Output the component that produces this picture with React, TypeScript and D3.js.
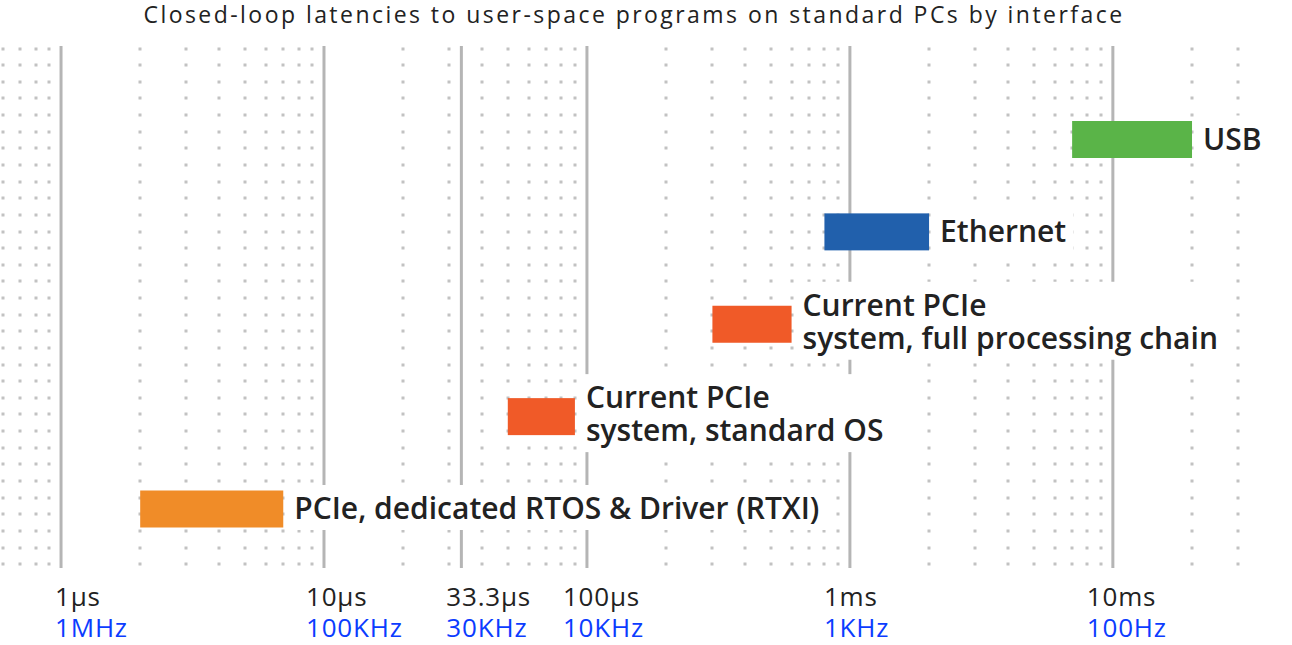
import React, { useEffect, useRef } from 'react';
import * as d3 from 'd3';

// latency bars, values in microseconds
const categories = ['USB', 'Ethernet', 'PCIe full chain', 'PCIe standard OS', 'RTXI'];
const barStart = [7000, 800, 300, 50, 2];
const barEnd = [20000, 2000, 600, 90, 7];
const barLabels = [
  ['USB'],
  ['Ethernet'],
  ['Current PCIe', 'system, full processing chain'],
  ['Current PCIe', 'system, standard OS'],
  ['PCIe, dedicated RTOS & Driver (RTXI)'],
];
const barColors = ['#5ab448', '#2160ac', '#f05a28', '#f05a28', '#f08c28'];

// axis ticks
const tickValues = [1, 10, 33.3, 100, 1000, 10000];
const tickTimeLabels = ['1\u00b5s', '10\u00b5s', '33.3\u00b5s', '100\u00b5s', '1ms', '10ms'];
const tickFreqLabels = ['1MHz', '100KHz', '30KHz', '10KHz', '1KHz', '100Hz'];
const tickNudge = [-6, -18, -15, -24, -26, -26];

const title = 'Closed-loop latencies to user-space programs on standard PCs by interface';

const W = 1292;
const H = 645;
const FONT = "'Open Sans', 'Noto Sans', sans-serif";

const App = () => {
  const ref = useRef<SVGSVGElement>(null);

  useEffect(() => {
    const svg = d3.select(ref.current);
    svg.selectAll('*').remove();

    const x = d3.scaleLog().domain([0.586, 48000]).range([0, W]);
    const y = d3.scalePoint<string>().domain(categories).range([139.5, 509]);

    const gridTop = 46;
    const gridBottom = 568;

    // dotted minor grid
    const minor: number[] = [];
    [0.1, 1, 10, 100, 1000, 10000].forEach(dec => {
      d3.range(2, 10).forEach(k => {
        const v = k * dec;
        if (v >= 0.6 && v <= 30000) minor.push(v);
      });
    });
    const rows = d3.range(32).map(i => 48.6 + i * 16.63);
    const dots = svg.append('g').attr('fill', '#c2c2c2');
    minor.forEach(v => {
      rows.forEach(r => {
        dots.append('rect')
          .attr('x', Math.round(x(v)) - 1.5)
          .attr('y', Math.round(r) - 1.5)
          .attr('width', 3)
          .attr('height', 3);
      });
    });

    // major lines
    svg.append('g')
      .selectAll('line')
      .data(tickValues)
      .enter()
      .append('line')
      .attr('x1', d => x(d))
      .attr('x2', d => x(d))
      .attr('y1', gridTop)
      .attr('y2', gridBottom)
      .attr('stroke', '#b5b5b5')
      .attr('stroke-width', 3);

    // bars
    svg.append('g')
      .selectAll('rect')
      .data(categories)
      .enter()
      .append('rect')
      .attr('x', (d, i) => x(barStart[i]))
      .attr('width', (d, i) => x(barEnd[i]) - x(barStart[i]))
      .attr('y', d => (y(d) as number) - 18.5)
      .attr('height', 37)
      .attr('fill', (d, i) => barColors[i]);

    // bar labels with white backing
    categories.forEach((c, i) => {
      const g = svg.append('g');
      const lines = barLabels[i];
      const cy = y(c) as number;
      const t = g.append('text')
        .attr('font-family', FONT)
        .attr('font-weight', 600)
        .attr('font-size', 30)
        .attr('fill', '#222');
      lines.forEach((ln, j) => {
        t.append('tspan')
          .attr('x', x(barEnd[i]) + 11)
          .attr('y', cy + 10 + (j - (lines.length - 1) / 2) * 33 - (lines.length - 1) * 2)
          .text(ln);
      });
      const bb = (t.node() as SVGTextElement).getBBox();
      g.insert('rect', 'text')
        .attr('x', bb.x - 7)
        .attr('y', bb.y - 2)
        .attr('width', bb.width + 14)
        .attr('height', bb.height + 4)
        .attr('fill', '#fff');
    });

    // tick labels: time on top, frequency below
    const tl = svg.append('g')
      .attr('font-family', FONT)
      .attr('font-size', 26)
      .attr('letter-spacing', 0.8);
    tickValues.forEach((v, i) => {
      const t = tl.append('text');
      t.append('tspan')
        .attr('x', x(v) + tickNudge[i])
        .attr('y', 606)
        .attr('fill', '#222')
        .text(tickTimeLabels[i]);
      t.append('tspan')
        .attr('x', x(v) + tickNudge[i])
        .attr('y', 637)
        .attr('fill', '#0b3cff')
        .text(tickFreqLabels[i]);
    });

    svg.append('text')
      .attr('x', 634)
      .attr('y', 23)
      .attr('text-anchor', 'middle')
      .attr('font-family', FONT)
      .attr('font-size', 23)
      .attr('letter-spacing', 2.45)
      .attr('fill', '#222')
      .text(title);
  }, []);

  return (
    <div style={{ position: 'absolute', left: 0, top: 0, width: W, height: H, background: '#fff' }}>
      <svg ref={ref} width={W} height={H} />
    </div>
  );
};

export default App;
